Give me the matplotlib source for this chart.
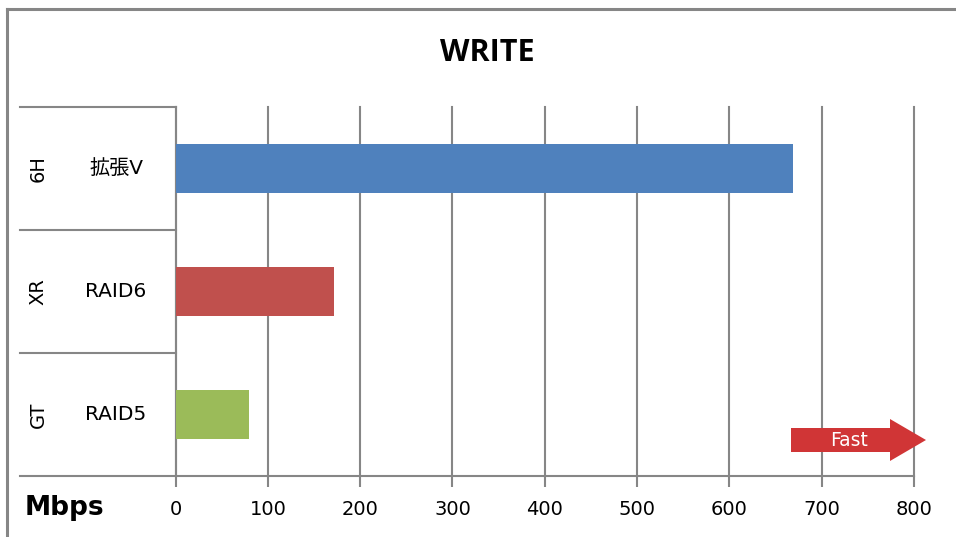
import matplotlib.pyplot as plt
from matplotlib.patches import FancyArrow
from matplotlib.transforms import blended_transform_factory
from matplotlib.lines import Line2D

plt.rcParams['font.family'] = ['DejaVu Sans', 'Noto Sans CJK JP']

# write throughput per array
groups = ['6H', 'XR', 'GT']
configs = ['拡張V', 'RAID6', 'RAID5']
mbps = [669, 172, 80]
colors = ['#4F81BD', '#C0504D', '#9BBB59']
xticks = [0, 100, 200, 300, 400, 500, 600, 700, 800]

W, H = 956, 537
fig = plt.figure(figsize=(W / 100, H / 100), dpi=100)
grid_c = '#868686'

# outer chart frame (only top/left visible)
fig.add_artist(Line2D([7 / W, 7 / W], [0, 1 - 9 / H], color=grid_c, lw=2.2))
fig.add_artist(Line2D([7 / W, 1], [1 - 9 / H, 1 - 9 / H], color=grid_c, lw=2.2))

x0, x1, ytop, ybot = 175.5, 914, 107, 476
ax = fig.add_axes([x0 / W, 1 - ybot / H, (x1 - x0) / W, (ybot - ytop) / H])

ypos = list(range(len(mbps)))[::-1]
ax.barh(ypos, mbps, height=0.4, color=colors, zorder=3)
ax.set_xlim(0, 800)
ax.set_ylim(-0.5, 2.5)

ax.set_xticks(xticks)
ax.set_xticklabels([str(t) for t in xticks], fontsize=14)
ax.tick_params(axis='x', length=8, width=1.5, color=grid_c, pad=9)
ax.set_yticks([])
ax.grid(axis='x', color=grid_c, lw=1.5, zorder=0)
for gl in ax.get_xgridlines():
    gl.set_clip_on(False)
for s in ['top', 'right']:
    ax.spines[s].set_visible(False)
for s in ['left', 'bottom']:
    ax.spines[s].set_color(grid_c)
    ax.spines[s].set_linewidth(1.5)

# category separators and two-level labels
trans = blended_transform_factory(fig.transFigure, ax.transData)
for b in [-0.5, 0.5, 1.5, 2.5]:
    ax.add_line(Line2D([20 / W, x0 / W], [b, b], transform=trans,
                       color=grid_c, lw=1.5, clip_on=False))
for y, g, c in zip(ypos, groups, configs):
    ax.text(38 / W, y, g, transform=trans, rotation=90, ha='center',
            va='center', fontsize=14)
    ax.text(116 / W, y, c, transform=trans, ha='center', va='center',
            fontsize=14.5)

fig.text(487 / W, 1 - 53 / H, 'WRITE', ha='center', va='center',
         fontsize=22, fontweight='bold', family=['Open Sans', 'DejaVu Sans'])
fig.text(64 / W, 1 - 508 / H, 'Mbps', ha='center', va='center',
         fontsize=19, fontweight='bold')

# "Fast" arrow
arr = FancyArrow(791 / W, 1 - 440 / H, 135 / W, 0, width=24 / H,
                 head_width=42 / H, head_length=36 / W,
                 length_includes_head=True, transform=fig.transFigure,
                 color='#D03536', lw=0)
fig.add_artist(arr)
fig.text(849 / W, 1 - 440 / H, 'Fast', ha='center', va='center',
         color='white', fontsize=13.5)

fig.savefig('out.png', dpi=100)
